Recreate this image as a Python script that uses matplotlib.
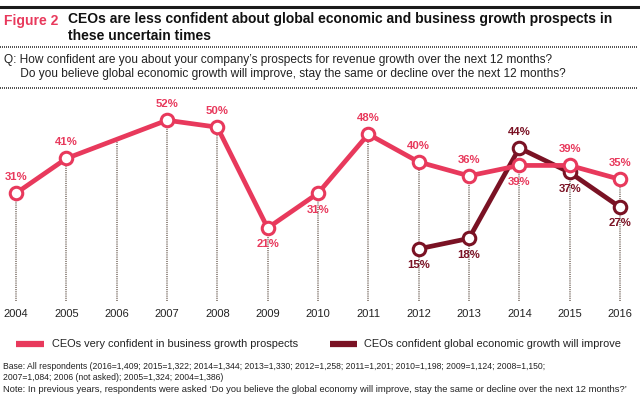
import numpy as np
import matplotlib
matplotlib.use("Agg")
import matplotlib.pyplot as plt
from matplotlib.lines import Line2D

plt.rcParams['font.family'] = ['Liberation Sans', 'DejaVu Sans']

# data
years = list(range(2004, 2017))
pink_years = [2004, 2005, 2007, 2008, 2009, 2010, 2011, 2012, 2013, 2014, 2015, 2016]
pink_vals = [31, 41, 52, 50, 21, 31, 48, 40, 36, 39, 39, 35]
pink_pos = ['up', 'up', 'up', 'up', 'down', 'down', 'up', 'up', 'up', 'down', 'up', 'up']
dark_years = [2012, 2013, 2014, 2015, 2016]
dark_vals = [15, 18, 44, 37, 27]
dark_pos = ['down', 'down', 'up', 'down', 'down']

pink = '#e8395c'
dark = '#7a1224'
dotc = '#8c8179'

W, H = 640, 398
fig = plt.figure(figsize=(W / 100, H / 100), dpi=100)

def fy(py):
    return 1 - py / H

# header lines
fig.add_artist(Line2D([0, 638 / W], [fy(6.5)] * 2, color='#1a1a1a', lw=2.2))
fig.add_artist(Line2D([0, 638 / W], [fy(47)] * 2, color='#333333', lw=1.2, ls=(0, (0.6, 0.6))))
fig.add_artist(Line2D([0, 638 / W], [fy(88)] * 2, color='#333333', lw=1.2, ls=(0, (0.6, 0.6))))

fig.text(4 / W, fy(21), 'Figure 2', color=pink, fontsize=10, fontweight='bold', va='center')
fig.text(68 / W, fy(27.5), 'CEOs are less confident about global economic and business growth prospects in\nthese uncertain times',
         color='#111111', fontsize=10, fontweight='bold', va='center', linespacing=1.25)
fig.text(4 / W, fy(67), 'Q: How confident are you about your company\u2019s prospects for revenue growth over the next 12 months?\n'
         '     Do you believe global economic growth will improve, stay the same or decline over the next 12 months?',
         color='#222222', fontsize=8.6, va='center', linespacing=1.15)

# chart
step = (620 - 16) / 12
x0 = 2004 - 16 / step
x1 = 2004 + (W - 16) / step
ppp = 3.476
ytop = (301 - 100) / ppp
ax = fig.add_axes([0, fy(301), 1, (301 - 100) / H])
ax.set_xlim(x0, x1)
ax.set_ylim(0, ytop)
for s in ax.spines.values():
    s.set_visible(False)
ax.set_yticks([])
ax.set_xticks(years)
ax.set_xticklabels([str(y) for y in years], fontsize=8, color='#222222')
ax.tick_params(axis='x', length=0, pad=6)

# vertical dotted guides
tops = np.interp(years, pink_years, pink_vals)
ax.vlines(years, 0, tops, colors=dotc, lw=1.3, linestyles=(0, (0.6, 0.6)), zorder=1)

ax.plot(pink_years, pink_vals, color=pink, lw=3.4, marker='o', ms=9, mfc='white', mec=pink, mew=2.2, zorder=4,
        solid_joinstyle='round')
ax.plot(dark_years, dark_vals, color=dark, lw=3.4, marker='o', ms=9, mfc='white', mec=dark, mew=2.2, zorder=3,
        solid_joinstyle='round')

off = 4.7
for x, v, p in zip(pink_years, pink_vals, pink_pos):
    ax.text(x, v + off if p == 'up' else v - off, f'{v}%', color=pink, fontsize=8.2, fontweight='bold',
            ha='center', va='center', zorder=5)
for x, v, p in zip(dark_years, dark_vals, dark_pos):
    ax.text(x, v + off if p == 'up' else v - off, f'{v}%', color=dark, fontsize=8.2, fontweight='bold',
            ha='center', va='center', zorder=5)

# legend
fig.add_artist(Line2D([16 / W, 44 / W], [fy(344)] * 2, color=pink, lw=4.5, solid_capstyle='butt'))
fig.text(52 / W, fy(344), 'CEOs very confident in business growth prospects', fontsize=7.9, color='#222222', va='center')
fig.add_artist(Line2D([330 / W, 357 / W], [fy(344)] * 2, color=dark, lw=4.5, solid_capstyle='butt'))
fig.text(364 / W, fy(344), 'CEOs confident global economic growth will improve', fontsize=7.9, color='#222222', va='center')

fig.text(3 / W, fy(372), 'Base: All respondents (2016=1,409; 2015=1,322; 2014=1,344; 2013=1,330; 2012=1,258; 2011=1,201; 2010=1,198; 2009=1,124; 2008=1,150;\n'
         '2007=1,084; 2006 (not asked); 2005=1,324; 2004=1,386)', fontsize=6.2, color='#222222', va='center', linespacing=1.3)
fig.text(3 / W, fy(390), 'Note: In previous years, respondents were asked \u2018Do you believe the global economy will improve, stay the same or decline over the next 12 months?\u2019',
         fontsize=6.75, color='#222222', va='center')

fig.savefig('out.png', dpi=100)
